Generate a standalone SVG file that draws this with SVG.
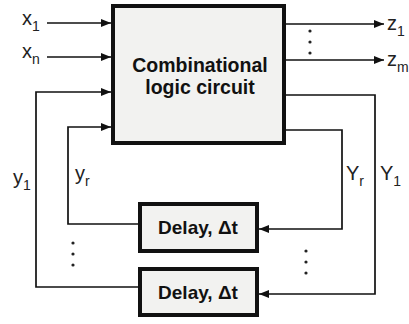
<svg xmlns="http://www.w3.org/2000/svg" width="409" height="324" viewBox="0 0 409 324">
<style>
.box{fill:#f2f2f0;stroke:#111;stroke-width:4}
.ln{fill:none;stroke:#111;stroke-width:1.7}
.bt{font-family:"Liberation Sans",Arial,sans-serif;font-weight:bold;fill:#111;text-anchor:middle}
.lb{font-family:"Liberation Sans",Arial,sans-serif;fill:#222;font-size:20px}
.sub{font-size:14px}
.dot{fill:#222}
</style>
<defs>
<marker id="ah" viewBox="0 0 10 8" refX="10" refY="4" markerWidth="11" markerHeight="8" markerUnits="userSpaceOnUse" orient="auto">
<path d="M0,0 L10,4 L0,8 Z" fill="#111"/>
</marker>
</defs>
<rect width="409" height="324" fill="#fff"/>
<g id="connectors">
<line class="ln" x1="47" y1="23" x2="111" y2="23" marker-end="url(#ah)"/>
<line class="ln" x1="47" y1="57" x2="111" y2="57" marker-end="url(#ah)"/>
<polyline class="ln" points="138,287 36,287 36,92 111,92" marker-end="url(#ah)"/>
<polyline class="ln" points="138,224 68,224 68,127 111,127" marker-end="url(#ah)"/>
<line class="ln" x1="286" y1="24" x2="384" y2="24" marker-end="url(#ah)"/>
<line class="ln" x1="286" y1="60" x2="384" y2="60" marker-end="url(#ah)"/>
<polyline class="ln" points="286,95 375,95 375,294 259,294" marker-end="url(#ah)"/>
<polyline class="ln" points="286,130 342,130 342,229 259,229" marker-end="url(#ah)"/>
</g>
<g id="dots">
<circle class="dot" cx="310" cy="31" r="1.6"/><circle class="dot" cx="310" cy="42" r="1.6"/><circle class="dot" cx="310" cy="53" r="1.6"/>
<circle class="dot" cx="73" cy="243" r="1.6"/><circle class="dot" cx="73" cy="254" r="1.6"/><circle class="dot" cx="73" cy="265" r="1.6"/>
<circle class="dot" cx="306" cy="251" r="1.6"/><circle class="dot" cx="306" cy="262" r="1.6"/><circle class="dot" cx="306" cy="273" r="1.6"/>
</g>
<g id="clc">
<rect class="box" x="113" y="6" width="171" height="137"/>
<text class="bt" x="200" y="72" font-size="19.5">Combinational</text>
<text class="bt" x="200" y="94" font-size="19.5">logic circuit</text>
</g>
<g id="delay1">
<rect class="box" x="140" y="204" width="117" height="47"/>
<text class="bt" x="198" y="234" font-size="19">Delay, Δt</text>
</g>
<g id="delay2">
<rect class="box" x="140" y="269" width="117" height="46"/>
<text class="bt" x="198" y="299" font-size="19">Delay, Δt</text>
</g>
<g id="labels">
<text class="lb" x="22" y="25">x<tspan class="sub" dy="6">1</tspan></text>
<text class="lb" x="22" y="58">x<tspan class="sub" dy="6">n</tspan></text>
<text class="lb" x="387" y="30">z<tspan class="sub" dy="6">1</tspan></text>
<text class="lb" x="387" y="66">z<tspan class="sub" dy="6">m</tspan></text>
<text class="lb" x="13" y="184">y<tspan class="sub" dy="6">1</tspan></text>
<text class="lb" x="75" y="180">y<tspan class="sub" dy="6">r</tspan></text>
<text class="lb" x="346" y="180">Y<tspan class="sub" dy="6">r</tspan></text>
<text class="lb" x="380" y="180">Y<tspan class="sub" dy="6">1</tspan></text>
</g>
</svg>
